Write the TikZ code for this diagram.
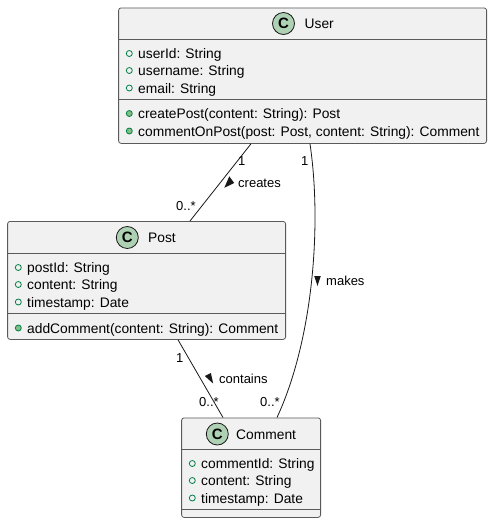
\documentclass[tikz,border=0pt]{standalone}
\usepackage{fontspec}
\setmainfont{Liberation Sans}
\definecolor{boxfill}{HTML}{F1F1F1}
\definecolor{boxline}{HTML}{5A5A5A}
\definecolor{spotfill}{HTML}{ADD1B2}
\definecolor{visline}{HTML}{038048}
\definecolor{visfill}{HTML}{84BE84}
\definecolor{edge}{HTML}{181818}
\tikzset{
  classbox/.style={draw=boxline,fill=boxfill,line width=0.8pt,rounded corners=2.5pt,inner sep=0pt,minimum width=#1,anchor=north west},
  sepline/.style={draw=boxline,line width=0.7pt},
  spot/.style={circle,draw=edge,fill=spotfill,line width=0.8pt,minimum size=22pt,inner sep=0pt,font=\fontsize{15}{15}\selectfont\bfseries},
  title/.style={anchor=base west,inner sep=0pt,font=\fontsize{13.8}{14}\selectfont,text=black},
  member/.style={anchor=base west,inner sep=0pt,font=\fontsize{13.8}{14}\selectfont,text=black},
  field/.style={circle,draw=visline,fill=boxfill,line width=0.8pt,minimum size=6pt,inner sep=0pt},
  method/.style={circle,draw=visline,fill=visfill,line width=0.8pt,minimum size=6pt,inner sep=0pt},
  lbl/.style={anchor=base west,inner sep=0pt,font=\fontsize{13}{13}\selectfont,text=black},
  link/.style={draw=edge,line width=0.8pt},
  tip/.style={fill=edge,draw=none},
}
\begin{document}
\begin{tikzpicture}[x=1pt,y=-1pt]
\useasboundingbox (0,0) rectangle (492,523);
% boxes
\node[classbox=368pt,minimum height=135.5pt] (user) at (118.2,7.5) {};
\node[classbox=278pt,minimum height=118pt] (post) at (7.2,221) {};
\node[classbox=139pt,minimum height=99.5pt] (comment) at (181.2,417.5) {};
% connectors
\draw[link] ([xshift=132.8pt]user.south west) -- ([xshift=182.8pt]post.north west);
\draw[link] ([xshift=170.8pt]post.south west) -- ([xshift=41.8pt]comment.north west);
\draw[link] ([xshift=191.8pt]user.south west) .. controls (322,225) and (313,340) .. ([xshift=95.8pt]comment.north west);
% separators
\draw[sepline] (118.2,39) -- (486.2,39) (118.2,99) -- (486.2,99);
\draw[sepline] (7.2,253) -- (285.2,253) (7.2,313) -- (285.2,313);
\draw[sepline] (181.2,449) -- (320.2,449) (181.2,509) -- (320.2,509);
% User
\node[spot] (userspot) at (283.5,23.5) {C};
\node[title] (usertitle) at (304.5,28.5) {User};
\node[field] (u1) at (129.3,53.5) {};
\node[member] (u1t) at (138,58.5) {userId: String};
\node[field] (u2) at (129.3,70.5) {};
\node[member] (u2t) at (138,75.5) {username: String};
\node[field] (u3) at (129.3,88) {};
\node[member] (u3t) at (138,93) {email: String};
\node[method] (u4) at (129.3,113.5) {};
\node[member] (u4t) at (138,118.5) {createPost(content: String): Post};
\node[method] (u5) at (129.3,131) {};
\node[member] (u5t) at (138,136) {commentOnPost(post: Post, content: String): Comment};
% Post
\node[spot] (postspot) at (127.3,237.5) {C};
\node[title] (posttitle) at (148,242.5) {Post};
\node[field] (p1) at (18.3,267.5) {};
\node[member] (p1t) at (27,272.5) {postId: String};
\node[field] (p2) at (18.3,284.5) {};
\node[member] (p2t) at (27,289.5) {content: String};
\node[field] (p3) at (18.3,302) {};
\node[member] (p3t) at (27,307) {timestamp: Date};
\node[method] (p4) at (18.3,328) {};
\node[member] (p4t) at (27,333) {addComment(content: String): Comment};
% Comment
\node[spot] (commentspot) at (217.3,434) {C};
\node[title] (commenttitle) at (236,439) {Comment};
\node[field] (c1) at (192.3,463.5) {};
\node[member] (c1t) at (201,468.5) {commentId: String};
\node[field] (c2) at (192.3,480.5) {};
\node[member] (c2t) at (201,485.5) {content: String};
\node[field] (c3) at (192.3,498) {};
\node[member] (c3t) at (201,503) {timestamp: Date};
% direction marks
\fill[tip] (224.3,187.8) -- (234.2,183) -- (229.3,176.3) -- cycle;
\fill[tip] (314.2,276) -- (320.8,276) -- (317.5,286) -- cycle;
\fill[tip] (204.8,376) -- (210.9,373) -- (213.2,383.6) -- cycle;
% labels
\node[lbl] (l1) at (238,187) {creates};
\node[lbl] (l2) at (326,285) {makes};
\node[lbl] (l3) at (219,383) {contains};
\node[lbl] (m1) at (238,165) {1};
\node[lbl] (m2) at (176,210) {0..*};
\node[lbl] (m3) at (301,165) {1};
\node[lbl] (m4) at (176,362) {1};
\node[lbl] (m5) at (199,406) {0..*};
\node[lbl] (m6) at (260,406) {0..*};
\end{tikzpicture}
\end{document}
